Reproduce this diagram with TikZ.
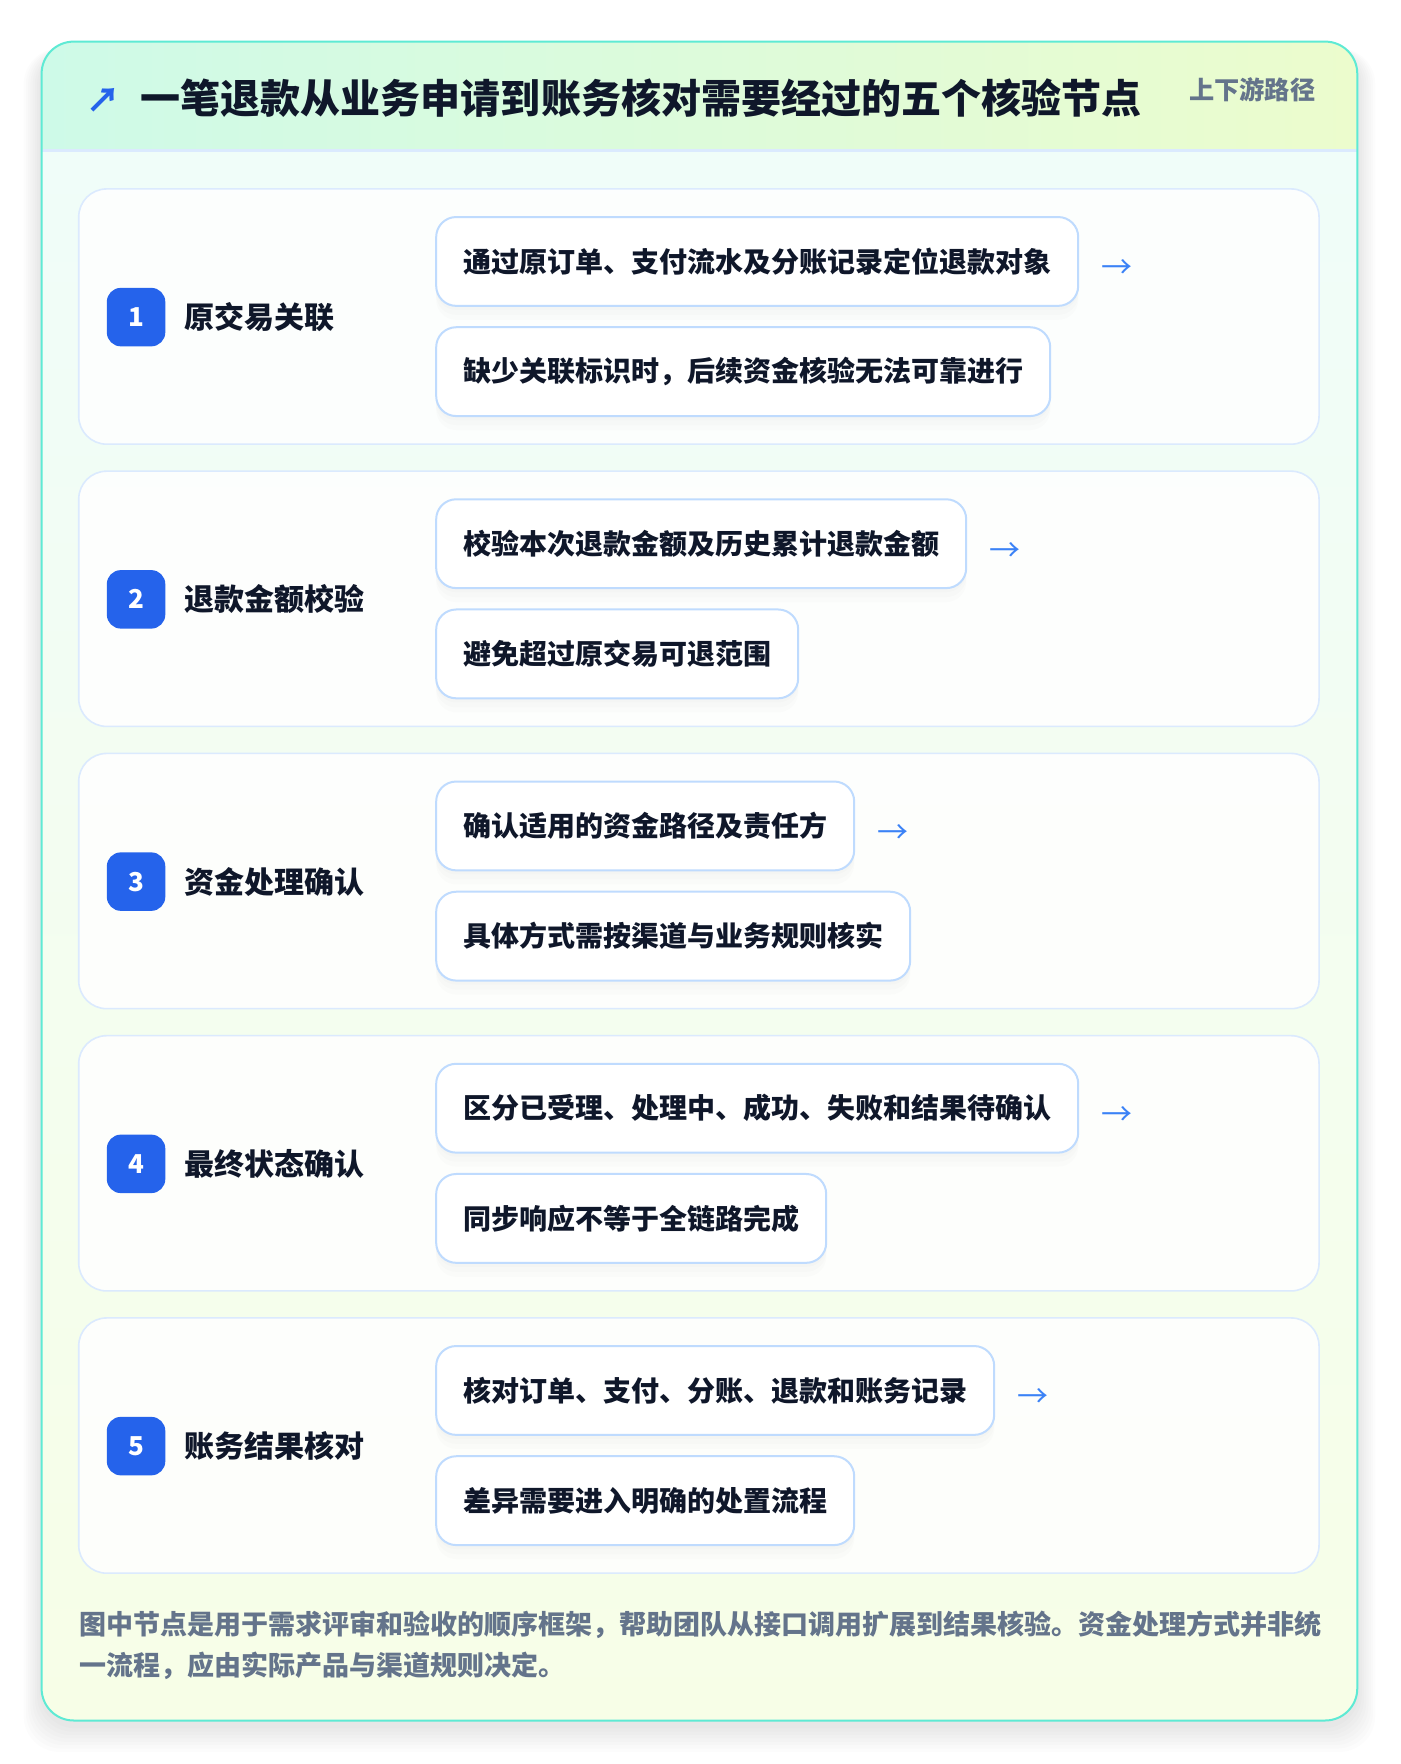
\documentclass[tikz,border=0pt]{standalone}
\usepackage{fontspec}
\setmainfont{Noto Sans CJK SC}
\usetikzlibrary{positioning, calc, shadows}

\definecolor{inkdark}{RGB}{15,23,42}
\definecolor{inkgray}{RGB}{100,116,139}
\definecolor{badgeblue}{RGB}{37,99,235}
\definecolor{arrowblue}{RGB}{59,130,246}
\definecolor{cardline}{RGB}{219,234,254}
\definecolor{boxline}{RGB}{191,219,254}
\definecolor{frameteal}{RGB}{94,234,212}
\definecolor{headmint}{RGB}{206,250,232}
\definecolor{headlime}{RGB}{236,252,205}
\definecolor{bodymint}{RGB}{240,253,249}
\definecolor{bodylime}{RGB}{247,254,231}

\tikzset{
  stepcard/.style={draw=cardline, line width=0.8pt, fill=white, fill opacity=0.85, rounded corners=14pt,
    minimum width=1103*0.5622pt, minimum height=227*0.5622pt, inner sep=0pt},
  badge/.style={fill=badgeblue, text=white, rounded corners=7pt, minimum size=52*0.5622pt, inner sep=0pt,
    font=\fontsize{13pt}{13pt}\selectfont\bfseries},
  steplabel/.style={text=inkdark, inner sep=0pt, font=\fontsize{15pt}{15pt}\selectfont\bfseries},
  subbox/.style={draw=boxline, line width=1pt, fill=white, rounded corners=10pt, text=inkdark,
    minimum height=79*0.5622pt, inner xsep=24*0.5622pt, inner ysep=0pt,
    font=\fontsize{14pt}{14pt}\selectfont\bfseries,
    drop shadow={opacity=0.025, shadow xshift=0pt, shadow yshift=-2pt},
    drop shadow={opacity=0.025, shadow xshift=0pt, shadow yshift=-4.5pt},
    drop shadow={opacity=0.02, shadow xshift=0pt, shadow yshift=-7pt}},
  nextmark/.style={text=arrowblue, inner sep=0pt, font=\fontsize{15.5pt}{15.5pt}\selectfont}
}

\begin{document}
\begin{tikzpicture}[x=0.5622pt, y=-0.5622pt]
\useasboundingbox[fill=white] (0,0) rectangle (1245,1568.7);

% soft shadow of the frame
\foreach \k in {1,...,8}
  \fill[black, opacity=0.011, rounded corners=18pt] (37-2*\k,37+6) rectangle (1207+2*\k,1530+3*\k+4);

% frame, header and body
\begin{scope}
  \clip[rounded corners=16pt] (37,37) rectangle (1207,1530);
  \shade[left color=headmint, right color=headlime] (37,37) rectangle (1207,134);
  \shade[top color=bodymint, bottom color=bodylime] (37,134) rectangle (1207,1530);
  \draw[cardline, line width=1.2pt] (37,134) -- (1207,134);
\end{scope}
\draw[frameteal, line width=1pt, rounded corners=16pt] (37,37) rectangle (1207,1530);

\node[text=badgeblue, inner sep=0pt, font=\fontsize{17pt}{17pt}\selectfont\bfseries, anchor=west] (mark) at (77,89) {↗};
\node[text=inkdark, inner sep=0pt, font=\fontsize{20pt}{20pt}\selectfont\bfseries, anchor=west] (title) at (125,87)
  {一笔退款从业务申请到账务核对需要经过的五个核验节点};
\node[text=inkgray, inner sep=0pt, font=\fontsize{12.6pt}{12.6pt}\selectfont\bfseries, anchor=east] (scope) at (1170,80)
  {上下游路径};

% the five steps
\foreach \i/\lbl/\ta/\tb in {
  1/原交易关联/通过原订单、支付流水及分账记录定位退款对象/缺少关联标识时，后续资金核验无法可靠进行,
  2/退款金额校验/校验本次退款金额及历史累计退款金额/避免超过原交易可退范围,
  3/资金处理确认/确认适用的资金路径及责任方/具体方式需按渠道与业务规则核实,
  4/最终状态确认/区分已受理、处理中、成功、失败和结果待确认/同步响应不等于全链路完成,
  5/账务结果核对/核对订单、支付、分账、退款和账务记录/差异需要进入明确的处置流程}
{
  \pgfmathsetmacro\top{168+251*(\i-1)}
  \node[stepcard] (step\i) at (621.5,\top+113.5) {};
  \node[badge] (num\i) at (121,\top+114) {\i};
  \node[steplabel, right=9pt of num\i] (lbl\i) {\lbl};
  \node[subbox, anchor=west] (ta\i) at (387,\top+64.5) {\ta};
  \node[subbox, anchor=west] (tb\i) at (387,\top+162.5) {\tb};
  \node[nextmark, right=11pt of ta\i, yshift=-4pt] (go\i) {→};
}

\node[text=inkgray, inner sep=0pt, align=left, anchor=north west,
  font=\fontsize{13.5pt}{20.8pt}\selectfont\bfseries] (note) at (70,1432)
  {图中节点是用于需求评审和验收的顺序框架，帮助团队从接口调用扩展到结果核验。资金处理方式并非统\\一流程，应由实际产品与渠道规则决定。};
\end{tikzpicture}
\end{document}
